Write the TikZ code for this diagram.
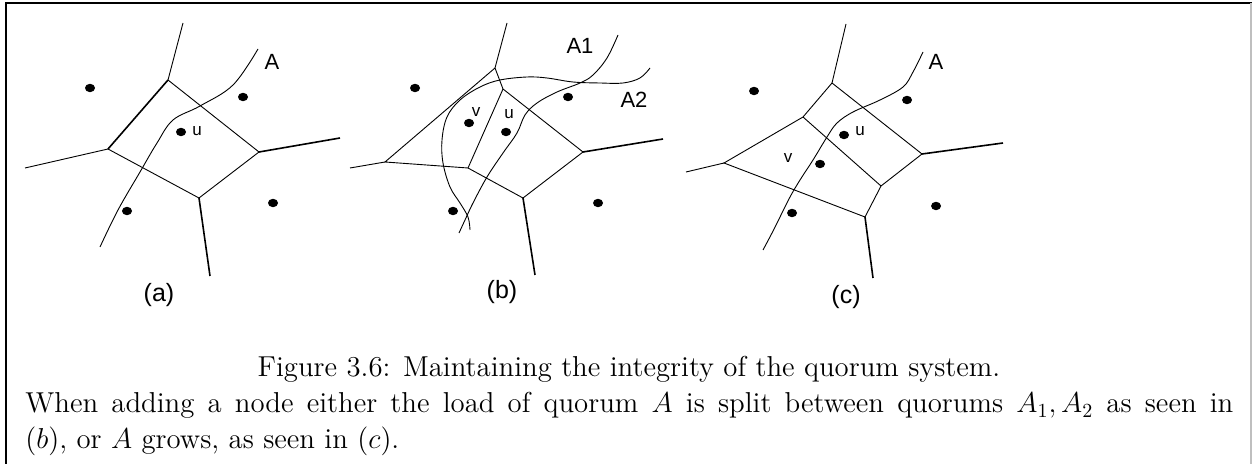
\documentclass[tikz,border=0pt]{standalone}
\usepackage{fontspec}
\newfontfamily\helv{Liberation Sans}
\usepackage{tikz}
\usetikzlibrary{calc}
\tikzset{
  cell/.style={line width=0.45pt},
  ray/.style={line width=0.8pt},
  quorum/.style={line width=0.45pt, smooth, tension=0.6},
  qname/.style={inner sep=0, font=\helv\fontsize{11}{13}\selectfont},
  sname/.style={inner sep=0, font=\helv\fontsize{8.5}{10}\selectfont},
  pname/.style={inner sep=0, font=\helv\fontsize{12.5}{15}\selectfont},
  capline/.style={inner sep=0, font=\fontsize{14.4}{18}\selectfont},
}

\begin{document}
\begin{tikzpicture}[x=0.5pt, y=-0.5pt]
  \useasboundingbox (0,0) rectangle (1252,464);
  \draw[line width=0.8pt] (6,464) -- (6,3) -- (1252,3);
  \draw[black!25, line width=0.7pt] (1251,3) -- (1251,464);

  % (a) a celula de u antes de entrar o novo no
  \coordinate (aT) at (168,80);
  \coordinate (aL) at (108,149);
  \coordinate (aR) at (259,152);
  \coordinate (aB) at (199,198);
  \draw[cell] (aT) -- (aR) -- (aB) -- (aL);
  \draw[ray] (aL) -- (aT);
  \draw[cell] (aT) -- (183,23);
  \draw[cell] (aL) -- (25,168);
  \draw[ray] (aR) -- (340,138);
  \draw[ray] (aB) -- (210,276);
  \fill (90,88) ellipse [x radius=2.5pt, y radius=2.1pt];
  \fill (243,97) ellipse [x radius=2.5pt, y radius=2.1pt];
  \fill (181,132) ellipse [x radius=2.5pt, y radius=2.1pt];
  \fill (127,211) ellipse [x radius=2.5pt, y radius=2.1pt];
  \fill (273,203) ellipse [x radius=2.5pt, y radius=2.1pt];
  \draw[quorum] plot coordinates {(258,49) (233,85) (200,106) (173,120) (157,143) (140,172) (118,210) (100,247)};
  \node[qname] (aA) at (272,62) {A};
  \node[sname] (au) at (197,131) {u};
  \node[pname] (alabel) at (159,295) {(a)};

  % (b) A dividido em A1 e A2
  \coordinate (bT) at (495,68);
  \coordinate (bS) at (503,89);
  \coordinate (bL) at (385,162);
  \coordinate (bM) at (468,168);
  \coordinate (bR) at (583,152);
  \coordinate (bB) at (523,198);
  \draw[cell] (bT) -- (bS) -- (bR) -- (bB) -- (bM) -- (bL) -- (bT);
  \draw[cell] (bS) -- (bM);
  \draw[cell] (bT) -- (507,23);
  \draw[cell] (bL) -- (350,168);
  \draw[ray] (bR) -- (663,139);
  \draw[ray] (bB) -- (535,275);
  \fill (415,88) ellipse [x radius=2.5pt, y radius=2.1pt];
  \fill (568,97) ellipse [x radius=2.5pt, y radius=2.1pt];
  \fill (469,123) ellipse [x radius=2.5pt, y radius=2.1pt];
  \fill (506,132) ellipse [x radius=2.5pt, y radius=2.1pt];
  \fill (453,211) ellipse [x radius=2.5pt, y radius=2.1pt];
  \fill (598,203) ellipse [x radius=2.5pt, y radius=2.1pt];
  \draw[quorum] plot coordinates {(618,35) (607,58) (593,75) (580,83) (557,92) (537,103) (525,115) (517,133) (503,153) (487,177) (473,203) (465,220) (459,233)};
  \draw[quorum] plot coordinates {(650,68) (640,78) (623,83) (600,83) (573,82) (547,78) (527,77) (500,80) (480,87) (460,100) (447,117) (442,140) (443,163) (450,187) (460,203) (468,217) (470,230)};
  \node[qname] (bA1) at (580,46) {A1};
  \node[qname] (bA2) at (634,100) {A2};
  \node[sname] (bv) at (476,112) {v};
  \node[sname] (bu) at (509,114) {u};
  \node[pname] (blabel) at (502,292) {(b)};

  % (c) A cresce e passa a conter v
  \coordinate (cT) at (832,83);
  \coordinate (cK) at (803,117);
  \coordinate (cL) at (724,163);
  \coordinate (cR) at (922,154);
  \coordinate (cM) at (881,186);
  \coordinate (cB) at (865,217);
  \draw[cell] (cT) -- (cK) -- (cL) -- (cB) -- (cM) -- (cR) -- (cT);
  \draw[cell] (cK) -- (cM);
  \draw[cell] (cT) -- (846,24);
  \draw[cell] (cL) -- (686,172);
  \draw[ray] (cR) -- (1003,143);
  \draw[ray] (cB) -- (873,278);
  \fill (754,91) ellipse [x radius=2.5pt, y radius=2.1pt];
  \fill (907,100) ellipse [x radius=2.5pt, y radius=2.1pt];
  \fill (844,135) ellipse [x radius=2.5pt, y radius=2.1pt];
  \fill (820,164) ellipse [x radius=2.5pt, y radius=2.1pt];
  \fill (792,213) ellipse [x radius=2.5pt, y radius=2.1pt];
  \fill (936,206) ellipse [x radius=2.5pt, y radius=2.1pt];
  \draw[quorum] plot coordinates {(923,52) (913,72) (903,87) (880,100) (853,112) (837,123) (827,137) (813,160) (800,180) (790,197) (780,217) (772,233) (763,250)};
  \node[qname] (cA) at (936,62) {A};
  \node[sname] (cu) at (860,131) {u};
  \node[sname] (cv) at (788,158) {v};
  \node[pname] (clabel) at (846,297) {(c)};

  \node[capline, anchor=base] (cap1) at (629,377) {Figure 3.6: Maintaining the integrity of the quorum system.};
  \node[capline, anchor=base west] (cap2) at (25,413) {\makebox[604pt][s]{When adding a node either the load of quorum $A$ is split between quorums $A_1, A_2$ as seen in}};
  \node[capline, anchor=base west] (cap3) at (25,448) {$(b)$, or $A$ grows, as seen in $(c)$.};
\end{tikzpicture}
\end{document}
